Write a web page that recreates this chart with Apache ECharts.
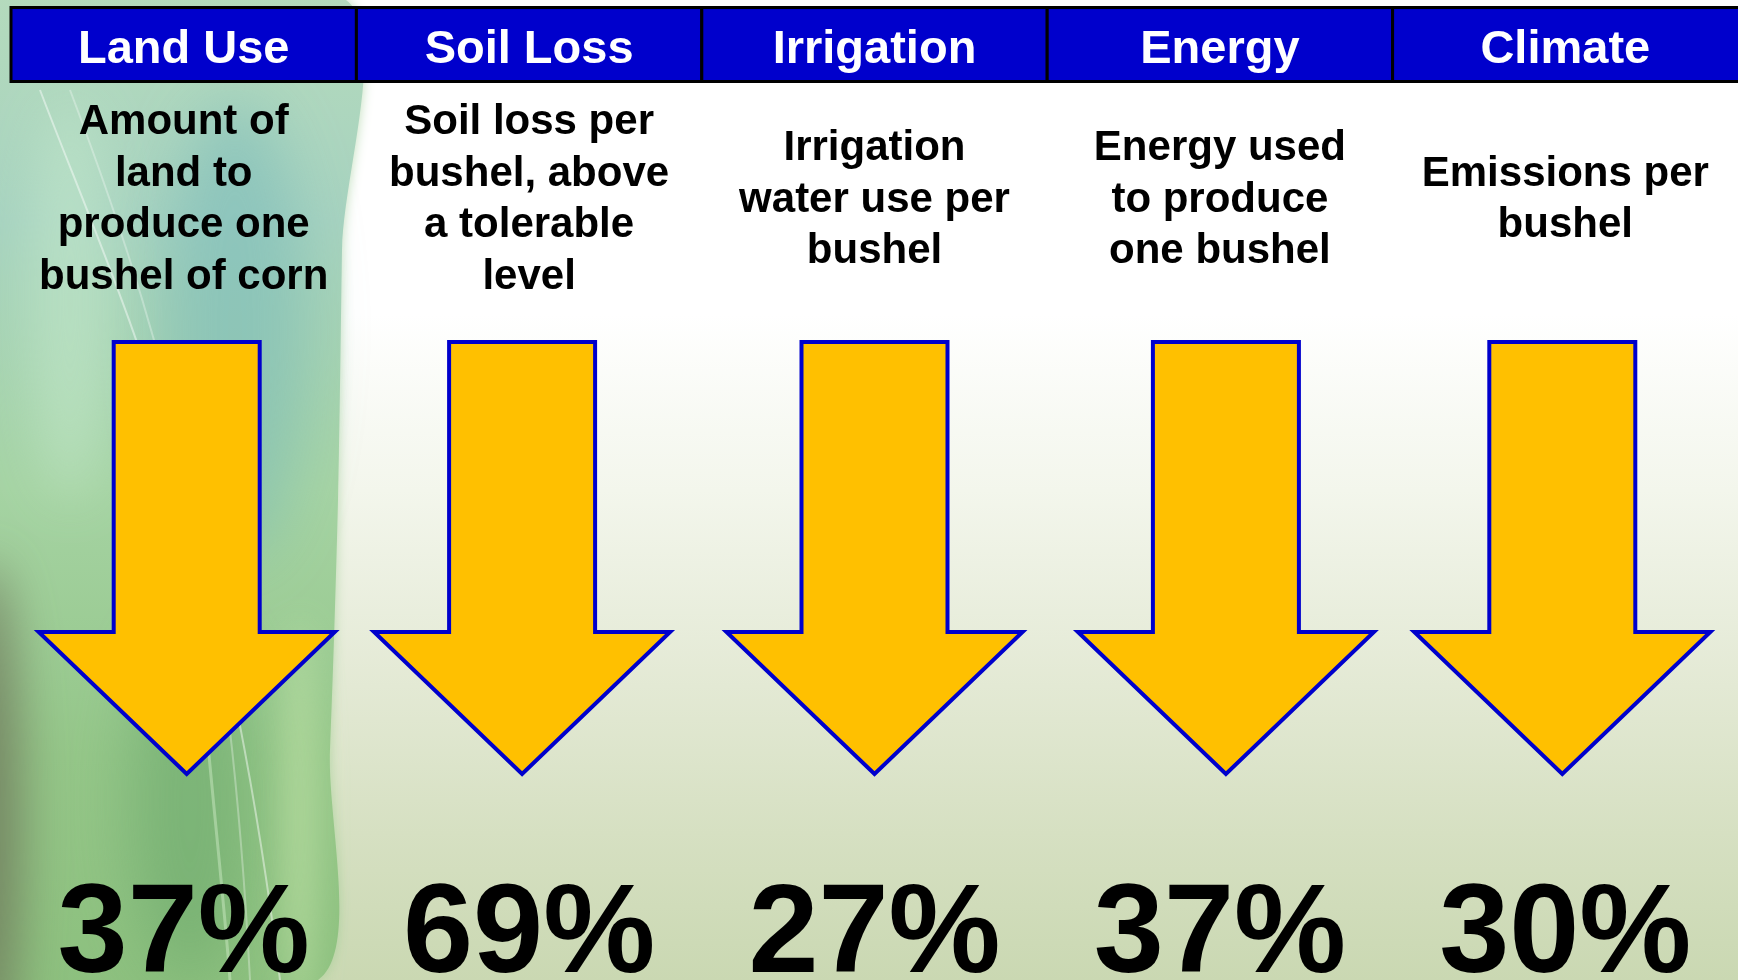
<!DOCTYPE html>
<html>
<head>
<meta charset="utf-8">
<script src="https://cdn.jsdelivr.net/npm/echarts@6/dist/echarts.min.js"></script>
<style>
  html, body { margin: 0; padding: 0; }
  #chart { width: 1738px; height: 980px; }
</style>
</head>
<body>
<div id="chart"></div>
<script>
// header categories
var categories = ['Land Use', 'Soil Loss', 'Irrigation', 'Energy', 'Climate']
// description under each header
var descriptions = [
  'Amount of\nland to\nproduce one\nbushel of corn',
  'Soil loss per\nbushel, above\na tolerable\nlevel',
  'Irrigation\nwater use per\nbushel',
  'Energy used\nto produce\none bushel',
  'Emissions per\nbushel'
]
// reduction in percent
var reductions = [37, 69, 27, 37, 30]

var FONT = '"Liberation Sans", Arial, sans-serif'
var BLUE = '#0000cc'
// the arrows are not exactly centred in their columns in the original slide
var ARROW_NUDGE = [3, -7, 0, 6, -3]

var chart = echarts.init(document.getElementById('chart'))

function renderItem (params, api) {
  var i = api.value(0)
  var cx = api.coord([i, 0])[0]
  var bw = api.size([1, 0])[0]
  var y = function (v) { return api.coord([i, v])[1] }
  var left = cx - bw / 2
  var w = bw + (i === categories.length - 1 ? 20 : 0)
  var ax = cx + ARROW_NUDGE[i]
  return {
    type: 'group',
    children: [
      {
        type: 'rect',
        shape: { x: left, y: y(7.5), width: w, height: y(81.5) - y(7.5) },
        style: { fill: BLUE, stroke: '#000', lineWidth: 3 }
      },
      {
        type: 'text',
        style: {
          x: cx, y: y(50), text: categories[i],
          fill: '#fff', font: 'bold 47px ' + FONT,
          align: 'center', verticalAlign: 'middle'
        }
      },
      {
        type: 'text',
        style: {
          x: cx, y: y(200), text: descriptions[i],
          fill: '#000', font: 'bold 42px ' + FONT, lineHeight: 51.5,
          align: 'center', verticalAlign: 'middle'
        }
      },
      {
        type: 'polygon',
        shape: {
          points: [
            [ax - 73, y(342)], [ax + 73, y(342)], [ax + 73, y(632)],
            [ax + 148, y(632)], [ax, y(774)], [ax - 148, y(632)],
            [ax - 73, y(632)]
          ]
        },
        style: { fill: '#ffc000', stroke: BLUE, lineWidth: 4, lineJoin: 'miter' }
      },
      {
        type: 'text',
        style: {
          x: cx, y: y(937), text: api.value(1) + '%',
          fill: '#000', font: 'bold 126px ' + FONT,
          align: 'center', verticalAlign: 'middle'
        }
      }
    ]
  }
}

// soft blob: the shape sits off screen and only its blurred shadow shows
function glow (cx, cy, rx, ry, color, blur) {
  return {
    type: 'ellipse', z: -8,
    shape: { cx: cx - 3000, cy: cy, rx: rx, ry: ry },
    style: { fill: '#000', shadowColor: color, shadowBlur: blur, shadowOffsetX: 3000 }
  }
}

chart.setOption({
  animation: false,
  backgroundColor: '#fff',
  graphic: [
    {
      type: 'rect', z: -10,
      shape: { x: 0, y: 0, width: 1738, height: 980 },
      style: {
        fill: new echarts.graphic.LinearGradient(0, 0, 0, 1, [
          { offset: 0, color: '#ffffff' },
          { offset: 0.32, color: '#ffffff' },
          { offset: 0.5, color: '#f3f6ec' },
          { offset: 0.7, color: '#e3e9d4' },
          { offset: 0.85, color: '#d6e0c2' },
          { offset: 1, color: '#cad8b2' }
        ])
      }
    },
    {
      type: 'polygon', z: -9,
      shape: {
        smooth: 0.3,
        points: [[0, 0], [346, 0], [342, 250], [338, 500], [330, 750], [318, 980], [0, 980]]
      },
      style: {
        fill: new echarts.graphic.LinearGradient(0, 0, 0, 1, [
          { offset: 0, color: '#b7dcbc' },
          { offset: 0.25, color: '#a6d2bf' },
          { offset: 0.5, color: '#a5d3a3' },
          { offset: 0.75, color: '#94c688' },
          { offset: 1, color: '#8bbf7c' }
        ]),
        shadowBlur: 12, shadowColor: 'rgba(150,200,140,0.6)'
      }
    },
    glow(235, 330, 70, 230, 'rgba(120,185,185,0.55)', 60),
    glow(70, 300, 40, 200, 'rgba(200,235,205,0.5)', 50),
    glow(-15, 820, 35, 260, 'rgba(105,110,85,0.75)', 50),
    glow(190, 800, 60, 180, 'rgba(95,160,100,0.45)', 60),
    glow(300, 820, 18, 200, 'rgba(190,225,165,0.6)', 30),
    {
      type: 'bezierCurve', z: -7,
      shape: { x1: 40, y1: 90, cpx1: 120, cpy1: 300, cpx2: 220, cpy2: 500, x2: 280, y2: 980 },
      style: { stroke: 'rgba(255,255,255,0.45)', lineWidth: 2, fill: null }
    },
    {
      type: 'bezierCurve', z: -7,
      shape: { x1: 70, y1: 90, cpx1: 180, cpy1: 380, cpx2: 230, cpy2: 600, x2: 250, y2: 980 },
      style: { stroke: 'rgba(255,255,255,0.3)', lineWidth: 2, fill: null }
    },
    {
      type: 'bezierCurve', z: -7,
      shape: { x1: 190, y1: 500, cpx1: 200, cpy1: 700, cpx2: 220, cpy2: 850, x2: 230, y2: 980 },
      style: { stroke: 'rgba(235,255,225,0.35)', lineWidth: 3, fill: null }
    }
  ],
  grid: { left: 11, right: 0, top: 0, bottom: 0 },
  xAxis: { type: 'category', data: categories, show: false },
  yAxis: { type: 'value', min: 0, max: 980, inverse: true, show: false },
  series: [
    {
      type: 'custom',
      z: 10,
      renderItem: renderItem,
      data: categories.map(function (c, i) { return [i, reductions[i]] })
    }
  ]
})
</script>
</body>
</html>
